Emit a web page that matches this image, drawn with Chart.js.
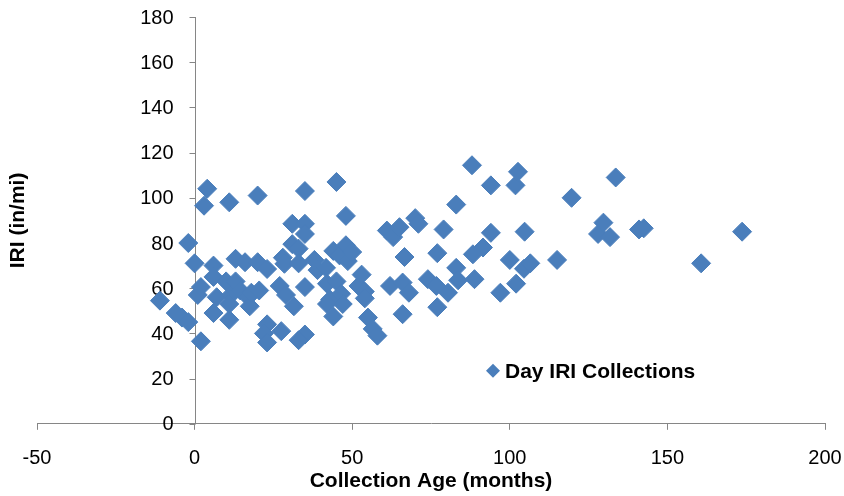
<!DOCTYPE html>
<html>
<head>
<meta charset="utf-8">
<script src="https://cdn.jsdelivr.net/npm/chart.js@4/dist/chart.umd.min.js"></script>
<style>
  html, body { margin: 0; padding: 0; background: #ffffff; }
  #wrap { width: 844px; height: 496px; }
</style>
</head>
<body>
<div id="wrap"><canvas id="iriChart"></canvas></div>
<script>
// --- DATA ---
const ageMonths = [
    -11, -6, -4, -2, -2, 0, 1, 2, 2, 3, 4, 6, 6, 7, 6,
    10, 11, 11, 11.5, 11, 13, 13, 14.5, 16, 17, 17.5, 18, 20, 20, 20.5,
    23, 23, 22, 23, 27.5, 28, 27, 29, 28.5, 31, 31.5, 31, 33, 33,
    35, 35, 35, 35, 35, 33, 38, 39, 41.7, 42, 43, 42, 44, 44, 45, 45,
    46, 46.5, 47, 48, 48, 48.6, 50, 52, 53, 54, 54, 55, 56.5, 58,
    61, 62, 63, 65, 66, 66.6, 68, 66, 70, 71, 74, 76.7, 77, 77, 79,
    80.4, 83, 83, 83.6, 88, 88.3, 88.8, 91.5, 94, 94, 97, 100,
    101.8, 102.6, 102, 104.7, 104.5, 106.5, 115, 119.6, 128, 129.7, 131.8, 133.6,
    141, 142.5, 160.7, 173.7
];
const iriValues = [
    54.5, 49, 47, 45, 80, 71, 57, 60.5, 36.5, 96.5, 104, 70, 65, 56, 49,
    63, 98, 46, 57, 53, 73, 63, 59, 71.5, 56, 52, 58, 101, 71.5, 59,
    68.5, 44, 40, 36, 41, 73.5, 61, 57, 70.8, 88.5, 52, 79.5, 77.5, 71,
    103, 88.5, 84, 60.5, 39.5, 37, 72.5, 68, 69, 62, 55, 53, 76.5, 47.5, 107, 63,
    74.5, 57.5, 53, 92, 79, 72, 76, 61, 66, 58.5, 55.5, 47, 42, 39,
    85.5, 61, 82.6, 87, 62.5, 73.8, 58, 48.5, 91, 88.5, 64, 61, 75.5, 51.6, 86,
    58, 97, 69, 63.5, 114.4, 75, 64, 78, 105.5, 84.5, 58, 72.5,
    105.5, 111.5, 62, 85, 68.6, 71, 72.5, 100, 84, 89, 82.6, 109,
    86, 86.5, 71, 85
];
const xTicks = { min: -50, max: 200, step: 50 };
const yTicks = { min: 0, max: 180, step: 20 };
const SERIES_LABEL = 'Day IRI Collections';
const X_TITLE = 'Collection Age (months)';
const Y_TITLE = 'IRI (in/mi)';

// --- STYLE ---
const FONT = "'Liberation Sans', Arial, sans-serif";
const AXIS_GREY = '#868686';
const MARKER_BLUE = '#4a7ebb';
const TICK_LEN = 6;

// 1. Build points from the arrays
const points = ageMonths.map((x, i) => ({ x: x, y: iriValues[i] }));

// 2. Y axis crossing at x = 0 (Excel style), drawn from the library's y scale
const crossingYAxis = {
    id: 'crossingYAxis',
    beforeDatasetsDraw(chart) {
        const { ctx, scales } = chart;
        const x0 = Math.round(scales.x.getPixelForValue(0)) + 0.5;
        const yScale = scales.y;
        ctx.save();
        ctx.strokeStyle = AXIS_GREY;
        ctx.lineWidth = 1;
        ctx.beginPath();
        ctx.moveTo(x0, yScale.top);
        ctx.lineTo(x0, yScale.bottom);
        yScale.ticks.forEach(t => {
            const py = Math.round(yScale.getPixelForValue(t.value)) + 0.5;
            ctx.moveTo(x0 - TICK_LEN, py);
            ctx.lineTo(x0, py);
        });
        ctx.stroke();
        ctx.fillStyle = '#000';
        ctx.font = `20px ${FONT}`;
        ctx.textAlign = 'right';
        ctx.textBaseline = 'middle';
        yScale.ticks.forEach(t => {
            ctx.fillText(t.label, x0 - 22, yScale.getPixelForValue(t.value) + 1);
        });
        ctx.restore();
    }
};

// 3. Rotated y title and the in-plot legend
const overlayText = {
    id: 'overlayText',
    afterDraw(chart) {
        const { ctx, chartArea } = chart;
        ctx.save();
        ctx.fillStyle = '#000';
        ctx.font = `bold 21px ${FONT}`;
        ctx.textAlign = 'center';
        ctx.textBaseline = 'middle';
        ctx.translate(18, (chartArea.top + chartArea.bottom) / 2);
        ctx.rotate(-Math.PI / 2);
        ctx.fillText(Y_TITLE, 0, 0);
        ctx.restore();

        // legend
        const lx = chartArea.left + 456;
        const ly = chartArea.bottom - 53;
        const r = 7;
        ctx.save();
        ctx.fillStyle = MARKER_BLUE;
        ctx.beginPath();
        ctx.moveTo(lx - r, ly);
        ctx.lineTo(lx, ly - r);
        ctx.lineTo(lx + r, ly);
        ctx.lineTo(lx, ly + r);
        ctx.closePath();
        ctx.fill();
        ctx.fillStyle = '#000';
        ctx.font = `bold 21px ${FONT}`;
        ctx.textAlign = 'left';
        ctx.textBaseline = 'middle';
        ctx.fillText(SERIES_LABEL, lx + 12, ly + 1);
        ctx.restore();
    }
};

// 4. Chart
const ctx = document.getElementById('iriChart').getContext('2d');

new Chart(ctx, {
    type: 'scatter',
    data: {
        datasets: [{
            label: SERIES_LABEL,
            data: points,
            pointStyle: 'rectRot',
            pointRadius: 9.5,
            backgroundColor: MARKER_BLUE,
            borderColor: MARKER_BLUE,
            borderWidth: 1
        }]
    },
    options: {
        responsive: true,
        maintainAspectRatio: false,
        animation: false,
        layout: { padding: { left: 37, right: 19, top: 17, bottom: 0 } },
        scales: {
            x: {
                type: 'linear',
                min: xTicks.min,
                max: xTicks.max,
                // let the layout padding alone decide the plot edges
                afterFit: scale => { scale.paddingLeft = 0; scale.paddingRight = 0; },
                ticks: { stepSize: xTicks.step, color: '#000', padding: 17, font: { family: FONT, size: 20 } },
                grid: { display: true, drawOnChartArea: false, drawTicks: true, tickLength: TICK_LEN, color: AXIS_GREY },
                border: { color: AXIS_GREY, width: 1 },
                title: {
                    display: true,
                    text: X_TITLE,
                    color: '#000',
                    font: { family: FONT, size: 21, weight: 'bold' },
                    padding: { top: -19, bottom: 2 }
                }
            },
            y: {
                type: 'linear',
                display: false,
                min: yTicks.min,
                max: yTicks.max,
                ticks: { stepSize: yTicks.step }
            }
        },
        plugins: {
            legend: { display: false },
            tooltip: { enabled: false }
        }
    },
    plugins: [crossingYAxis, overlayText]
});
</script>
</body>
</html>
